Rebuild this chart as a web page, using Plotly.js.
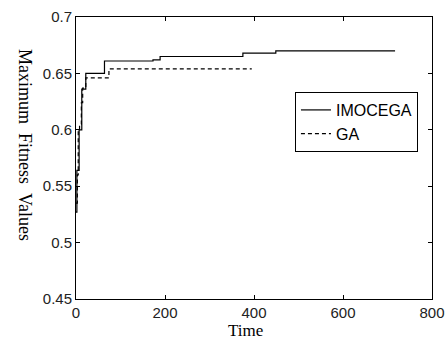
<!DOCTYPE html>
<html><head><meta charset="utf-8">
<script src="https://cdn.plot.ly/plotly-3.0.1.min.js"></script>
<style>body{margin:0;background:#fff}#c{width:448px;height:340px}</style>
</head><body><div id="c"></div>
<script>
var imoTime = [0, 2, 7, 13, 22, 64, 173, 189, 375, 449, 717];
var imoFit  = [0.527, 0.564, 0.600, 0.636, 0.650, 0.661, 0.662, 0.665, 0.668, 0.670, 0.670];
var gaTime  = [0, 3, 5, 8, 12, 15, 22, 74, 395];
var gaFit   = [0.535, 0.560, 0.600, 0.605, 0.624, 0.637, 0.646, 0.654, 0.654];
var xTicks  = [0, 200, 400, 600, 800];
var yTicks  = [0.45, 0.5, 0.55, 0.6, 0.65, 0.7];

var traces = [
  {x: imoTime, y: imoFit, name: 'IMOCEGA', mode: 'lines', line: {shape: 'hv', color: '#000', width: 1.2}},
  {x: gaTime, y: gaFit, name: 'GA', mode: 'lines', line: {shape: 'hv', color: '#000', width: 1.2, dash: '4px,3px'}}
];
var axCommon = {showgrid: false, zeroline: false, showline: true, linecolor: '#000', linewidth: 1,
  mirror: 'ticks', ticks: 'inside', ticklen: 4, tickcolor: '#000',
  tickfont: {family: 'Liberation Sans, Arial', size: 15, color: '#222'}};
var serif = {family: 'Liberation Serif, Times New Roman', size: 18, color: '#000'};
var layout = {
  width: 448, height: 340,
  margin: {l: 76, r: 16, t: 17, b: 41},
  paper_bgcolor: '#fff', plot_bgcolor: '#fff',
  showlegend: true,
  legend: {x: 0.615, y: 0.734, xanchor: 'left', yanchor: 'top', bgcolor: '#fff', bordercolor: '#000', borderwidth: 1,
    font: {family: 'Liberation Sans, Arial', size: 16, color: '#000'}, tracegroupgap: 0},
  xaxis: Object.assign({}, axCommon, {range: [0, 800], tickvals: xTicks, ticktext: xTicks.map(String)}),
  yaxis: Object.assign({}, axCommon, {range: [0.45, 0.7], tickvals: yTicks, ticktext: yTicks.map(String)}),
  annotations: [
    {text: 'Maximum\u00a0\u00a0Fitness\u00a0\u00a0Values', xref: 'paper', yref: 'paper', x: -0.143, y: 0.546,
     textangle: 90, showarrow: false, xanchor: 'center', yanchor: 'middle', font: serif},
    {text: 'Time', xref: 'paper', yref: 'paper', x: 0.475, y: -0.113,
     showarrow: false, xanchor: 'center', yanchor: 'middle',
     font: {family: 'Liberation Serif, Times New Roman', size: 17, color: '#000'}}
  ]
};
Plotly.newPlot('c', traces, layout, {displayModeBar: false, staticPlot: true});
</script></body></html>
